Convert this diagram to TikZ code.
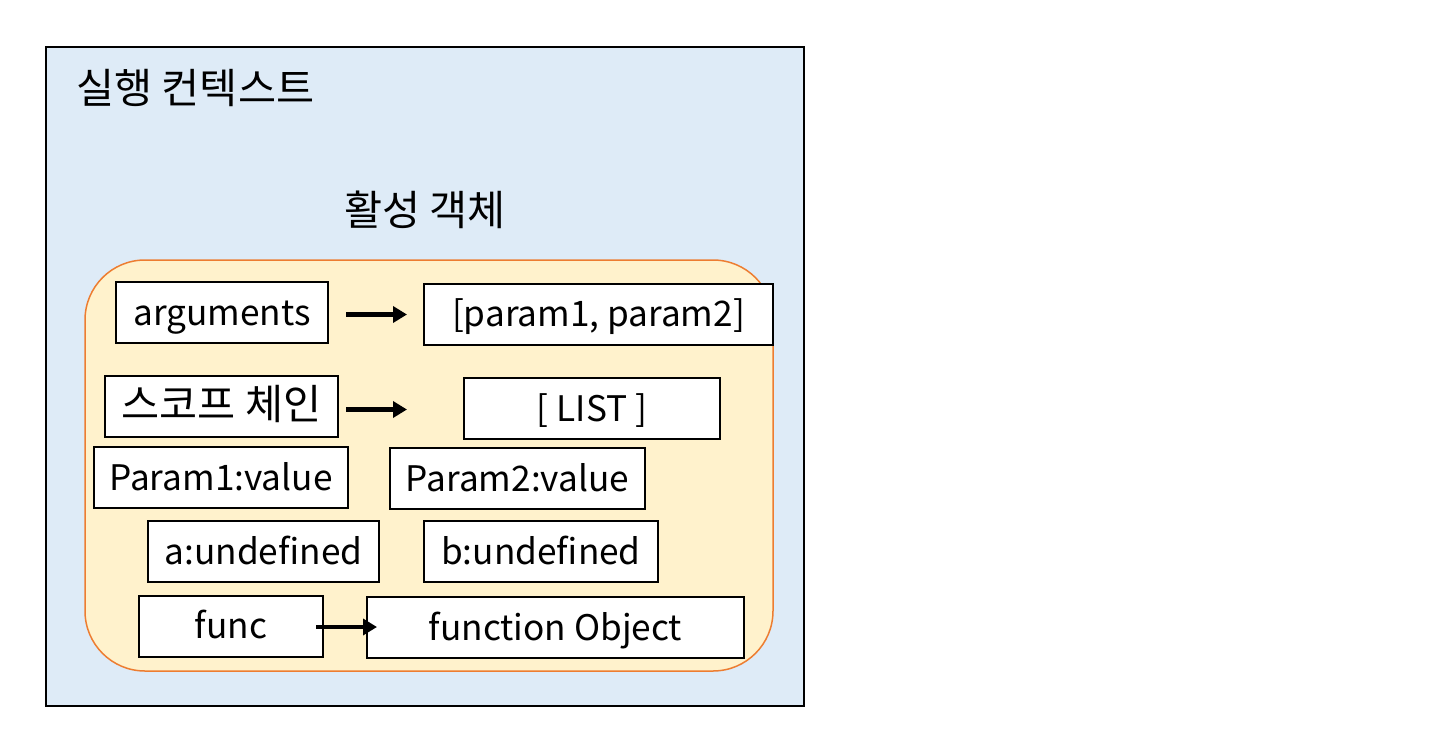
\documentclass[tikz,border=0pt]{standalone}
\usepackage{fontspec}
\usetikzlibrary{arrows.meta}
\setmainfont{Noto Sans CJK KR}
\definecolor{ctxblue}{HTML}{DEEBF7}
\definecolor{aoyellow}{HTML}{FFF2CC}
\definecolor{aoorange}{HTML}{ED7D31}
\newcommand{\latinsize}{\fontsize{17.6}{20}\selectfont}
\newcommand{\hangulsize}{\fontsize{20.7}{24}\selectfont}
\tikzset{
	box/.style={draw, fill=white, line width=1pt, minimum height=30.5pt, inner sep=0pt, text height=15pt, text depth=2.5pt, font=\latinsize},
	link/.style={line width=2.2pt, -{Triangle[length=7pt,width=8pt]}}
}
\begin{document}
\begin{tikzpicture}[x=0.5pt,y=-0.5pt]
	\useasboundingbox (0,0) rectangle (1448,740);
	\draw[fill=ctxblue, line width=0.75pt] (46,47) rectangle (804,706);
	\node[anchor=west, inner sep=0pt, font=\hangulsize] (ctx) at (76,88) {실행 컨텍스트};
	\node[inner sep=0pt, font=\hangulsize] (ao) at (425,210) {활성 객체};
	\draw[fill=aoyellow, draw=aoorange, line width=0.75pt, rounded corners=30pt] (85,260) rectangle (773,671);
	\node[box, minimum width=106pt] (args) at (222,312.5) {arguments};
	\node[box, minimum width=174.5pt] (plist) at (598.5,314) {[param1, param2]};
	\node[box, minimum width=116.5pt, font=\hangulsize] (scope) at (221.5,406.5) {스코프 체인};
	\node[box, minimum width=128pt] (list) at (592,408.5) {[ LIST ]};
	\node[box, minimum width=127pt] (p1) at (221,477.5) {Param1:value};
	\node[box, minimum width=127.5pt] (p2) at (517.5,478.5) {Param2:value};
	\node[box, minimum width=115.5pt] (a) at (263.5,551.5) {a:undefined};
	\node[box, minimum width=117pt] (b) at (541,551.5) {b:undefined};
	\node[box, minimum width=92pt] (func) at (231,626) {func};
	\node[box, minimum width=188.5pt] (fobj) at (555.5,627.5) {function Object};
	\draw[link, shorten <=8.5pt, shorten >=8pt] ([yshift=-1pt]args.east) -- ([yshift=-1pt]args.east -| plist.west);
	\draw[link, shorten <=3.5pt, shorten >=28pt] ([yshift=-1.5pt]scope.east) -- ([yshift=-1.5pt]scope.east -| list.west);
	\draw[link, shorten <=-4pt, shorten >=-5.5pt] ([yshift=-0.5pt]func.east) -- ([yshift=-0.5pt]func.east -| fobj.west);
\end{tikzpicture}
\end{document}
